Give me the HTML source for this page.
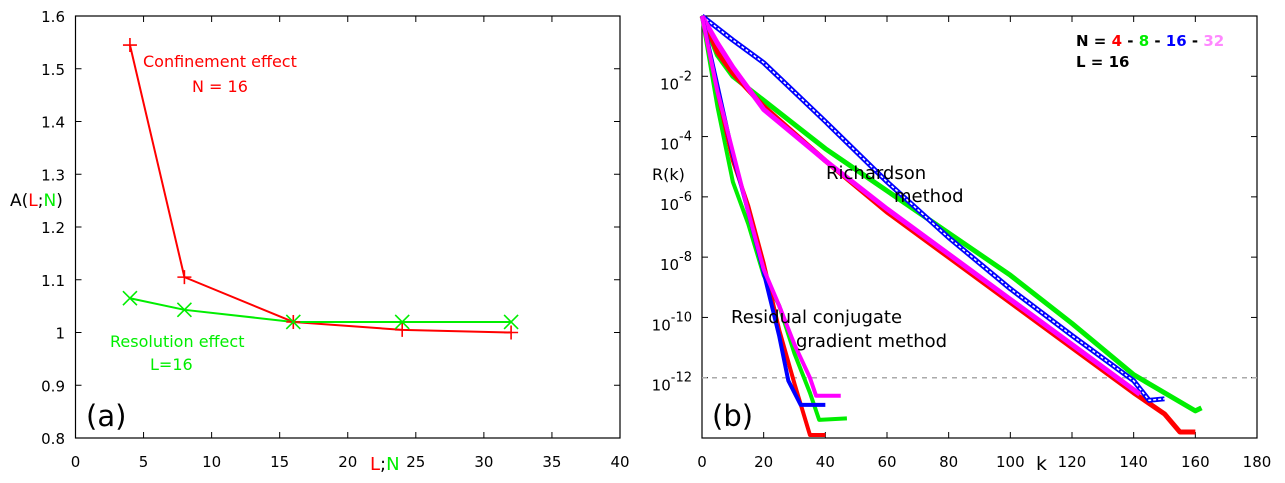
<!DOCTYPE html>
<html><head><meta charset="utf-8"><style>
body{margin:0;background:#fff;}
svg{display:block;font-family:"DejaVu Sans","Liberation Sans",sans-serif;}
</style></head><body>
<svg id="s" width="1285" height="483" viewBox="0 0 1285 483"></svg>
<script>
// ---- Panel (a) data ----
const aX=[4,8,16,24,32];
const aConf=[1.545,1.105,1.02,1.005,1.0];
const aRes=[1.065,1.043,1.02,1.02,1.02];
const aXTicks=[0,5,10,15,20,25,30,35,40];
const aYTicks=[0.8,0.9,1,1.1,1.2,1.3,1.4,1.5,1.6];
// ---- Panel (b) data (log10 R) ----
const rK=[0,5,10,20,40,60,80,100,120,140];
const richRed=[0,-1.2,-1.9,-3.0,-4.8,-6.5,-8.0,-9.5,-11.0,-12.5];
const richRedTailK=[150,155,160];
const richRedTail=[-13.2,-13.8,-13.8];
const richGreen=[0,-1.3,-2.0,-2.8,-4.4,-5.8,-7.2,-8.6,-10.2,-11.9];
const richGreenTailK=[160,162];
const richGreenTail=[-13.1,-13.0];
const richBlue=[0,-0.4,-0.8,-1.55,-3.5,-5.5,-7.35,-9.05,-10.6,-12.1];
const richBlueTailK=[145,150];
const richBlueTail=[-12.75,-12.7];
const richMag=[0,-0.9,-1.7,-3.1,-4.8,-6.4,-7.9,-9.4,-10.9,-12.4];
const richMagTailK=[142];
const richMagTail=[-12.55];
const cgRedK=[0,5,10,15,20,25,30,35,40];
const cgRed=[0,-2.5,-4.8,-6.3,-8.2,-10.4,-12.2,-13.9,-13.9];
const cgBlueK=[0,5,10,15,20,25,28,32,40];
const cgBlue=[0,-2.3,-4.6,-6.5,-8.5,-10.6,-12.1,-12.9,-12.9];
const cgGreenK=[0,5,10,15,20,25,30,35,38,47];
const cgGreen=[0,-3.0,-5.5,-6.9,-8.6,-9.6,-11.2,-12.5,-13.4,-13.35];
const cgMagK=[0,5,10,15,20,25,30,35,37,45];
const cgMag=[0,-2.5,-4.5,-6.5,-8.4,-9.6,-10.9,-12.0,-12.6,-12.6];
const bXTicks=[0,20,40,60,80,100,120,140,160,180];
const bYExp=[-2,-4,-6,-8,-10,-12];

const NS="http://www.w3.org/2000/svg";
const svg=document.getElementById('s');
function el(t,a,p){const e=document.createElementNS(NS,t);for(const k in a)e.setAttribute(k,a[k]);(p||svg).appendChild(e);return e;}
const aL=75.5,aR=620,aT=16,aB=438;
const ax=v=>aL+(v-0)/40*(aR-aL), ay=v=>aB-(v-0.8)/0.8*(aB-aT);
const bL=702,bR=1257,bT=16,bB=438;
const bx=v=>bL+v/180*(bR-bL), by=v=>bT+(0-v)/14*(bB-bT);

function frame(L,R,T,B,name){
  const r=el('rect',{x:L,y:T,width:R-L,height:B-T,fill:'none',stroke:'#000','stroke-width':1.2});
  
  
}
function txt(x,y,s,opt){const t=el('text',Object.assign({x:x,y:y,'font-size':16,fill:'#000'},opt||{}));t.textContent=s;return t;}

// ---- Panel (a) ----
const ga=el('g',{});


frame(aL,aR,aT,aB,'panel-a-frame');
aXTicks.forEach(v=>{
  el('line',{x1:ax(v),x2:ax(v),y1:aB,y2:aB-6,stroke:'#000'},ga);
  el('line',{x1:ax(v),x2:ax(v),y1:aT,y2:aT+6,stroke:'#000'},ga);
  const t=txt(ax(v),467,String(v),{'text-anchor':'middle','font-size':15});
  
  
});
aYTicks.forEach(v=>{
  el('line',{x1:aL,x2:aL+6,y1:ay(v),y2:ay(v),stroke:'#000'},ga);
  el('line',{x1:aR,x2:aR-6,y1:ay(v),y2:ay(v),stroke:'#000'},ga);
  const t=txt(65,ay(v)+6,String(v),{'text-anchor':'end','font-size':15});
  
  
});
function series(xs,ys,fx,fy,col,w,name){
  const p=el('polyline',{points:xs.map((x,i)=>fx(x)+','+fy(ys[i])).join(' '),fill:'none',stroke:col,'stroke-width':w,'stroke-linejoin':'round'});
  
  
  return p;
}
series(aX,aConf,ax,ay,'#f00',2,'confinement-line');
series(aX,aRes,ax,ay,'#0e0',2,'resolution-line');
aX.forEach((x,i)=>{
  const X=ax(x),Y=ay(aConf[i]);
  const m=el('path',{d:`M${X-7},${Y}h14M${X},${Y-7}v14`,stroke:'#f00','stroke-width':1.6});
  
  
  const Y2=ay(aRes[i]);
  const n=el('path',{d:`M${X-7},${Y2-7}l14,14M${X-7},${Y2+7}l14,-14`,stroke:'#0e0','stroke-width':1.6});
  
  
});
let t;
t=txt(143,67,'Confinement effect',{fill:'#f00'});
t=txt(192,92,'N = 16',{fill:'#f00'});
t=txt(110,347,'Resolution effect',{fill:'#0e0'});
t=txt(150,370,'L=16',{fill:'#0e0'});
t=el('text',{x:10,y:206,'font-size':17});t.innerHTML='A(<tspan fill="#f00">L</tspan>;<tspan fill="#0e0">N</tspan>)';

t=el('text',{x:370,y:470,'font-size':18});t.innerHTML='<tspan fill="#f00">L</tspan>;<tspan fill="#0e0">N</tspan>';

t=txt(86,426,'(a)',{'font-size':29});

// ---- Panel (b) ----
frame(bL,bR,bT,bB,'panel-b-frame');
bXTicks.forEach(v=>{
  el('line',{x1:bx(v),x2:bx(v),y1:bB,y2:bB-6,stroke:'#000'});
  el('line',{x1:bx(v),x2:bx(v),y1:bT,y2:bT+6,stroke:'#000'});
  const t=txt(bx(v),467,String(v),{'text-anchor':'middle','font-size':15});
  
  
});
bYExp.forEach(v=>{
  el('line',{x1:bL,x2:bL+6,y1:by(v),y2:by(v),stroke:'#000'});
  el('line',{x1:bR,x2:bR-6,y1:by(v),y2:by(v),stroke:'#000'});
  const t=el('text',{x:692,y:by(v)+13,'font-size':15,'text-anchor':'end'});
  t.innerHTML='10<tspan dy="-9" font-size="13">'+v+'</tspan>';
  
  
});
const dl=el('line',{x1:bL,x2:bR,y1:by(-12),y2:by(-12),stroke:'#aaa','stroke-width':1.5,'stroke-dasharray':'5,5'});



function rich(xs,ys,tk,tv,col,name){
  series(xs.concat(tk),ys.concat(tv),bx,by,col,5,name);
}
rich(rK,richGreen,richGreenTailK,richGreenTail,'#0e0','richardson-n8');
rich(rK,richRed,richRedTailK,richRedTail,'#f00','richardson-n4');
rich(rK,richBlue,richBlueTailK,richBlueTail,'#00f','richardson-n16');
const hb=series(rK.concat(richBlueTailK),richBlue.concat(richBlueTail),bx,by,'#fff',1.5,'richardson-n16-hollow');
hb.setAttribute('stroke-dasharray','3,2');
rich(rK,richMag,richMagTailK,richMagTail,'#f0f','richardson-n32');
series(cgGreenK,cgGreen,bx,by,'#0e0',4,'cg-n8');
series(cgRedK,cgRed,bx,by,'#f00',4,'cg-n4');
series(cgBlueK,cgBlue,bx,by,'#00f',4,'cg-n16');
series(cgMagK,cgMag,bx,by,'#f0f',4,'cg-n32');

t=txt(826,179,'Richardson',{'font-size':18});
t=txt(894,202,'method',{'font-size':18});
t=txt(731,323,'Residual conjugate',{'font-size':18});
t=txt(796,347,'gradient method',{'font-size':18});
t=txt(652,180,'R(k)',{'font-size':16});
t=txt(1036,470,'k',{'font-size':19});
t=txt(712,426,'(b)',{'font-size':29});
t=el('text',{x:1076,y:46,'font-size':15,'font-weight':'bold'});
t.innerHTML='N = <tspan fill="#f00">4</tspan> - <tspan fill="#0e0">8</tspan> - <tspan fill="#00f">16</tspan> - <tspan fill="#f8f">32</tspan>';

t=txt(1076,67,'L = 16',{'font-size':15,'font-weight':'bold'});
</script>
</body></html>
